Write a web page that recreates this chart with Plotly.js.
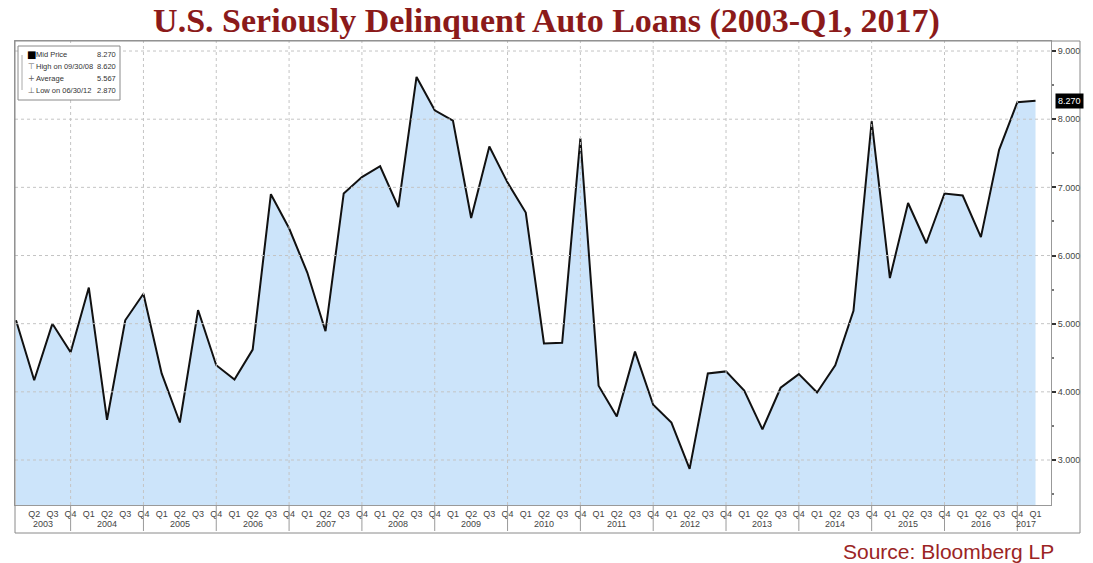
<!DOCTYPE html>
<html>
<head>
<meta charset="utf-8">
<script src="https://cdn.plot.ly/plotly-3.0.1.min.js"></script>
<style>html,body{margin:0;padding:0;background:#fff;}#chart{width:1093px;height:563px;}</style>
</head>
<body>
<div id="chart"></div>
<script>
// Quarter-end observations, 2003-Q1 .. 2017-Q1
const years = [2003,2004,2005,2006,2007,2008,2009,2010,2011,2012,2013,2014,2015,2016,2017];
const quarterNames = ["Q1","Q2","Q3","Q4"];
const delinquency = [
  5.05, 4.17, 5.00, 4.58,
  5.53, 3.59, 5.05, 5.44,
  4.27, 3.55, 5.20, 4.39,
  4.18, 4.62, 6.90, 6.40,
  5.75, 4.89, 6.91, 7.15,
  7.31, 6.71, 8.62, 8.13,
  7.98, 6.55, 7.60, 7.07,
  6.63, 4.71, 4.72, 7.72,
  4.09, 3.64, 4.59, 3.81,
  3.55, 2.87, 4.27, 4.30,
  4.02, 3.45, 4.06, 4.26,
  3.99, 4.39, 5.19, 7.97,
  5.67, 6.77, 6.18, 6.91,
  6.88, 6.27, 7.55, 8.25,
  8.27
];
const legendNames = ["Mid Price","High on 09/30/08","Average","Low on 06/30/12"];
const legendValues = ["8.270","8.620","5.567","2.870"];
const legendIcons = ["\u25A0","\u22A4","+","\u22A5"];
const lastLabel = "8.270";

// build quarter periods (categories)
const periods = [];
years.forEach(y => quarterNames.forEach(q => periods.push({year:y, q:q})));
const n = delinquency.length;
const idx = [];
for (let i = 0; i < n; i++) idx.push(i);
const tickText = idx.map(i => i === 0 ? "" : periods[i].q);

// pixel helpers for paper coordinates
const L = 15, R = 1051, T = 41, B = 505;
const px = p => (p - L) / (R - L);
const py = p => (B - p) / (B - T);

const shapes = [];
const annotations = [];
const gridColor = "#c4c4c4";
const smallFont = "Liberation Sans Narrow, Liberation Sans, sans-serif";
// horizontal dotted grid
for (let v = 3; v <= 9; v++) {
  shapes.push({type:"line", xref:"paper", yref:"y", x0:0, x1:1, y0:v, y1:v,
    line:{color:gridColor, width:1, dash:"dot"}, layer:"above"});
}
// vertical dotted grid + year separators at Q4 points
const xmax = 56.85;
for (let i = 0; i < n; i++) {
  if (periods[i].q === "Q4") {
    shapes.push({type:"line", xref:"x", yref:"paper", x0:i, x1:i, y0:0, y1:1,
      line:{color:gridColor, width:1, dash:"dot"}, layer:"above"});
    shapes.push({type:"line", xref:"x", yref:"paper", x0:i, x1:i, y0:py(506), y1:py(531),
      line:{color:"#9a9a9a", width:1}});
  }
}
// year labels centred on each visible year span
years.forEach(y => {
  const inds = idx.filter(i => periods[i].year === y);
  const start = Math.max(inds[0] - 1, 0);
  const end = Math.min(inds[inds.length - 1], xmax);
  annotations.push({xref:"x", yref:"paper", x:(start + end) / 2, y:py(524), text:String(y),
    showarrow:false, xanchor:"center", yanchor:"middle",
    font:{family:smallFont, size:9, color:"#444"}});
});
// outer frame
shapes.push({type:"rect", xref:"paper", yref:"paper", x0:0, x1:px(1080), y0:py(533), y1:1,
  line:{color:"#8a8a8a", width:1}, fillcolor:"rgba(0,0,0,0)"});
// legend box
shapes.push({type:"rect", xref:"paper", yref:"paper", x0:px(18), x1:px(120), y0:py(100), y1:py(46),
  line:{color:"#8a8a8a", width:1}, fillcolor:"#ffffff", layer:"above"});
shapes.push({type:"line", xref:"paper", yref:"paper", x0:px(22), x1:px(22), y0:py(90), y1:py(55),
  line:{color:"#aaaaaa", width:1}, layer:"above"});
const rowY = [55, 67, 79, 90];
rowY.forEach((yy, k) => {
  annotations.push({xref:"paper", yref:"paper", x:px(k === 0 ? 25 : 26), y:py(yy), text:legendIcons[k],
    showarrow:false, xanchor:"left", yanchor:"middle",
    font:{family:"DejaVu Sans, sans-serif", size:k === 0 ? 10 : 8, color:k === 0 ? "#000" : "#666"}});
  annotations.push({xref:"paper", yref:"paper", x:px(34), y:py(yy), text:legendNames[k],
    showarrow:false, xanchor:"left", yanchor:"middle",
    font:{family:smallFont, size:7.5, color:"#333"}});
  annotations.push({xref:"paper", yref:"paper", x:px(118), y:py(yy), text:legendValues[k],
    showarrow:false, xanchor:"right", yanchor:"middle",
    font:{family:smallFont, size:7.5, color:"#333"}});
});
// last value box
annotations.push({xref:"paper", yref:"y", x:px(1055), y:delinquency[n - 1], text:lastLabel,
  showarrow:false, xanchor:"left", yanchor:"middle", bgcolor:"#000", borderpad:2,
  font:{family:smallFont, size:9, color:"#fff"}});
// source
annotations.push({xref:"paper", yref:"paper", x:px(1056), y:py(551), text:"Source: Bloomberg LP",
  showarrow:false, xanchor:"right", yanchor:"middle",
  font:{family:"Liberation Sans, Arial, sans-serif", size:21, color:"#9b2424"}});

const trace = {
  x: idx, y: delinquency, type:"scatter", mode:"lines",
  line:{color:"#111", width:2},
  fill:"tozeroy", fillcolor:"rgb(204,228,250)",
  hoverinfo:"y"
};

const layout = {
  width:1093, height:563,
  margin:{l:L, r:1093 - R, t:T, b:563 - B, pad:0},
  paper_bgcolor:"#fff", plot_bgcolor:"#fff",
  showlegend:false,
  title:{text:"U.S. Seriously Delinquent Auto Loans (2003-Q1, 2017)",
    xref:"container", x:0.5, xanchor:"center", yref:"container", y:1 - 20/563, yanchor:"middle",
    font:{family:"Liberation Serif, DejaVu Serif, serif", size:34, color:"#8b1a1a", weight:"bold"}},
  xaxis:{range:[-0.055, xmax], tickvals:idx, ticktext:tickText, ticks:"",
    tickfont:{family:smallFont, size:9, color:"#444"},
    showgrid:false, zeroline:false, showline:true, linecolor:"#999", linewidth:1, mirror:true,
    fixedrange:true},
  yaxis:{side:"right", range:[2.34, 9.147], tick0:0, dtick:1, tickformat:".3f",
    ticks:"outside", ticklen:4, tickwidth:2, tickcolor:"#333",
    minor:{dtick:0.5, ticks:"outside", ticklen:2, tickcolor:"#777"},
    tickfont:{family:smallFont, size:9, color:"#444"},
    showgrid:false, zeroline:false, showline:true, linecolor:"#999", linewidth:1, mirror:true,
    fixedrange:true},
  shapes:shapes,
  annotations:annotations
};

Plotly.newPlot("chart", [trace], layout, {staticPlot:true, displayModeBar:false});
</script>
</body>
</html>
